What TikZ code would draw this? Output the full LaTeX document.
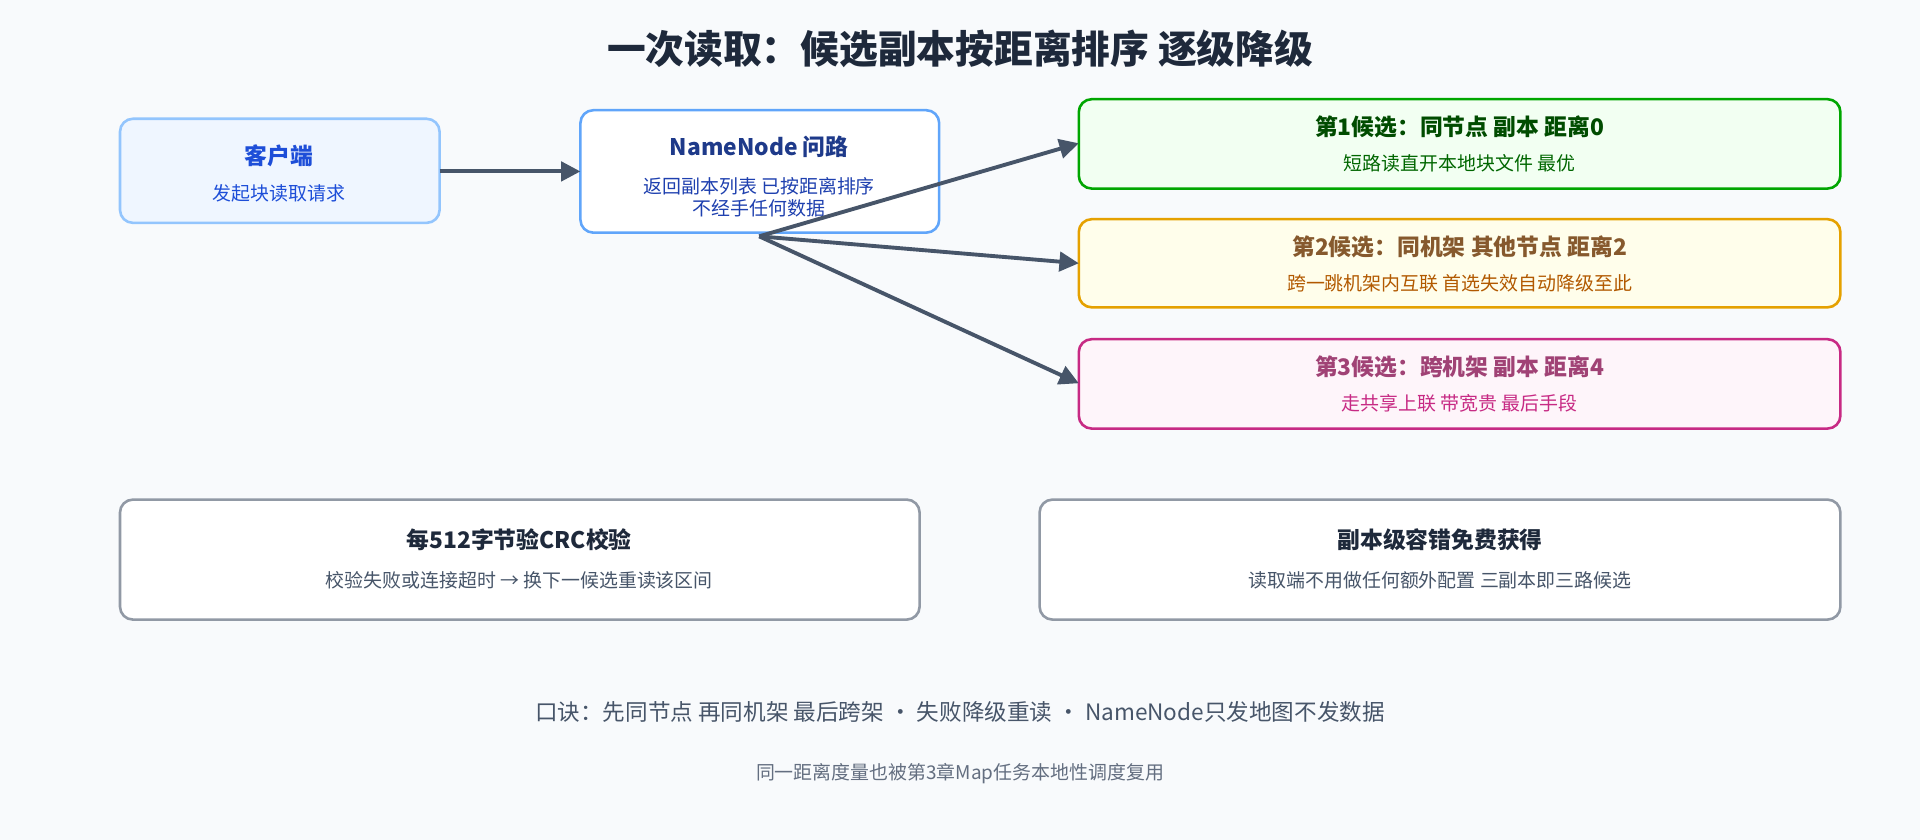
\documentclass[tikz,border=0pt]{standalone}
\usepackage{fontspec}
\setmainfont{Noto Sans CJK SC}
\usetikzlibrary{arrows.meta, positioning}
\definecolor{bg}{HTML}{F8FAFC}
\definecolor{slate}{HTML}{475569}
\definecolor{ink}{HTML}{1E293B}
\definecolor{cliFill}{HTML}{EFF6FF}
\definecolor{cliLine}{HTML}{93C5FD}
\definecolor{cliText}{HTML}{1D4ED8}
\definecolor{nnLine}{HTML}{60A5FA}
\definecolor{nnText}{HTML}{1E3A8A}
\definecolor{nnSub}{HTML}{1E40AF}
\tikzset{
    box/.style = {draw, rounded corners=6pt, line width=1.2pt},
    head/.style = {font=\bfseries\fontsize{10.6}{12}\selectfont},
    sub/.style = {font=\fontsize{8.8}{10.5}\selectfont},
    link/.style = {draw=slate, line width=1.8pt, -{Triangle[length=9pt,width=9pt]}}
}
\begin{document}
\begin{tikzpicture}[x=0.02cm, y=-0.02cm]
    \fill[bg] (0,0) rectangle (1568,686);
    \useasboundingbox (0,0) rectangle (1568,686);

    \node[font=\bfseries\fontsize{18}{21}\selectfont, text=ink] (title) at (784,40) {一次读取：候选副本按距离排序 逐级降级};

    % client and namenode
    \draw[box, draw=cliLine, fill=cliFill] (98,97) rectangle (359,182);
    \node[head, text=cliText] (client) at (228,127) {客户端};
    \node[sub, text=cliText] at (228,158) {发起块读取请求};
    \coordinate (cR) at (359,140);

    \draw[box, draw=nnLine, fill=white] (474,90) rectangle (767,190);
    \node[head, text=nnText] (nn) at (620,120) {NameNode 问路};
    \node[sub, text=nnSub, align=center] at (620,161) {返回副本列表 已按距离排序\\不经手任何数据};
    \coordinate (nL) at (474,140);
    \coordinate (nB) at (620,193);

    % candidates
    \draw[box, draw=green!65!black, fill=green!5] (881,81) rectangle (1503,154);
    \node[head, text=green!30!black] (c1) at (1192,104) {第1候选：同节点 副本 距离0};
    \node[sub, text=green!40!black] at (1192,133) {短路读直开本地块文件 最优};
    \draw[box, draw=orange!60!yellow!90!black, fill=yellow!8] (881,179) rectangle (1503,251);
    \node[head, text=brown!70!black] (c2) at (1192,202) {第2候选：同机架 其他节点 距离2};
    \node[sub, text=orange!70!black] at (1192,231) {跨一跳机架内互联 首选失效自动降级至此};
    \draw[box, draw=magenta!80!black, fill=magenta!4] (881,277) rectangle (1503,350);
    \node[head, text=magenta!60!black] (c3) at (1192,300) {第3候选：跨机架 副本 距离4};
    \node[sub, text=magenta!80!black] at (1192,329) {走共享上联 带宽贵 最后手段};
    \coordinate (p1) at (881,117);
    \coordinate (p2) at (881,215);
    \coordinate (p3) at (881,313);

    \draw[link] (cR) -- (nL);
    \foreach \p in {p1,p2,p3}
        \draw[link] (nB) -- (\p);

    % notes
    \draw[box, draw=slate!60, fill=white] (98,408) rectangle (751,506);
    \node[head, text=ink] (crc) at (424,441) {每512字节验CRC校验};
    \node[sub, text=slate] at (424,474) {校验失败或连接超时 → 换下一候选重读该区间};
    \draw[box, draw=slate!60, fill=white] (849,408) rectangle (1503,506);
    \node[head, text=ink] (ft) at (1176,441) {副本级容错免费获得};
    \node[sub, text=slate] at (1176,474) {读取端不用做任何额外配置 三副本即三路候选};

    \node[font=\fontsize{10.5}{12}\selectfont, text=slate] (rhyme) at (784,581) {口诀：先同节点 再同机架 最后跨架 · 失败降级重读 · NameNode只发地图不发数据};
    \node[sub, text=slate!85] (reuse) at (784,632) {同一距离度量也被第3章Map任务本地性调度复用};
\end{tikzpicture}
\end{document}
